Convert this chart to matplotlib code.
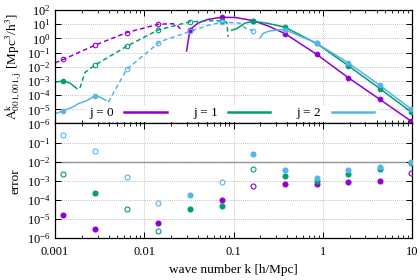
import numpy as np
import matplotlib
matplotlib.use('Agg')
import matplotlib.pyplot as plt
from matplotlib.lines import Line2D
from matplotlib.ticker import LogLocator, NullFormatter, FixedLocator, FuncFormatter

plt.rcParams['font.family'] = ['Liberation Serif', 'DejaVu Serif']
plt.rcParams['mathtext.fontset'] = 'stix'

# --- data ---
colors = ['#9400d3', '#009e73', '#56b4e9']
labels = ['j = 0', 'j = 1', 'j = 2']

k_pts = [0.00124, 0.0028, 0.00635, 0.0144, 0.0325, 0.0736, 0.166, 0.376, 0.853, 1.93, 4.36, 9.85]

# j = 0
j0_dash_k = [0.001, 0.00124, 0.0028, 0.00635, 0.0144, 0.0209, 0.0238, 0.0262]
j0_dash_A = [0.019, 0.033, 0.33, 2.6, 10, 11, 7.4, 3.8]
j0_solid_k = [0.0298, 0.0325, 0.0399, 0.0516, 0.0736, 0.105, 0.166, 0.25, 0.376, 0.853, 1.93, 4.36, 9.85]
j0_solid_A = [0.13, 4.1, 12, 22, 31, 30, 18, 7.1, 2.2, 0.076, 1.7e-3, 5.0e-5, 1.4e-6]

# j = 1
j1_low_k = [0.001, 0.00124, 0.00147, 0.00176]
j1_low_A = [8.3e-4, 1.0e-3, 7.1e-4, 2.9e-4]
j1_dash_k = [0.0019, 0.00217, 0.0028, 0.00635, 0.0144, 0.0325, 0.0619, 0.0736, 0.0838, 0.0873]
j1_dash_A = [3.2e-4, 4.0e-3, 0.013, 0.28, 4.0, 15, 18, 17, 14, 1.3]
j1_solid_k = [0.0953, 0.108, 0.134, 0.166, 0.235, 0.376, 0.853, 1.93, 4.36, 9.85]
j1_solid_A = [3.8, 4.8, 12, 16, 12, 6.3, 0.44, 0.012, 2.9e-4, 6.3e-6]

# j = 2
j2_low_k = [0.001, 0.00124, 0.00163, 0.00182, 0.00226, 0.0028, 0.00319, 0.00372]
j2_low_A = [4.9e-6, 7.9e-6, 1.6e-5, 2.5e-5, 4.0e-5, 8.9e-5, 7.2e-5, 4.3e-5]
j2_dash_k = [0.00395, 0.00635, 0.0144, 0.0171, 0.0325, 0.0516, 0.0736, 0.118, 0.134, 0.166]
j2_dash_A = [3.2e-5, 6.5e-3, 0.48, 0.79, 3.1, 8.3, 14, 12, 5.6, 3.4]
j2_solid_k = [0.198, 0.215, 0.256, 0.331, 0.376, 0.853, 1.93, 4.36, 9.85]
j2_solid_A = [1.05, 2.3, 3.4, 4.1, 4.1, 0.46, 0.019, 4.9e-4, 1.0e-5]

# markers on the curves (open = on dashed part)
A0_mk = [0.033, 0.33, 2.6, 10, 4.1, 31, 18, 2.2, 0.076, 1.7e-3, 5.0e-5, 1.4e-6]
A1_mk = [1.0e-3, 0.013, 0.28, 4.0, 15, 17, 16, 6.3, 0.44, 0.012, 2.9e-4, 6.3e-6]
A2_mk = [7.9e-6, 8.9e-5, 6.5e-3, 0.48, 3.1, 14, 3.4, 4.1, 0.46, 0.019, 4.9e-4, 1.0e-5]
open0 = [1, 1, 1, 1, 0, 0, 0, 0, 0, 0, 0, 0]
open1 = [0, 1, 1, 1, 1, 1, 0, 0, 0, 0, 0, 0]
open2 = [0, 0, 1, 1, 1, 1, 1, 0, 0, 0, 0, 0]

# error panel
err0 = [1.7e-5, 2.9e-6, np.nan, 6.2e-6, np.nan, 9.6e-5, 5.3e-4, 6.9e-4, 6.8e-4, 8.9e-4, 1.0e-3, 2.6e-3]
err1 = [2.2e-3, 2.2e-4, 3.5e-5, 2.2e-6, 3.4e-5, 5.0e-5, 4.1e-3, 1.8e-3, 9.6e-4, 2.2e-3, 4.1e-3, 9.0e-3]
err2 = [0.26, 0.038, 1.6e-3, 6.7e-5, 1.9e-4, 8.3e-4, 0.026, 3.6e-3, 1.4e-3, 3.5e-3, 5.5e-3, 1.0e-2]
eopen0 = [0, 0, 0, 0, 0, 0, 1, 0, 0, 0, 0, 1]
eopen1 = [1, 0, 1, 1, 0, 0, 1, 0, 0, 0, 0, 0]
eopen2 = [1, 1, 1, 1, 0, 1, 0, 0, 0, 0, 0, 0]

# --- figure ---
fig = plt.figure(figsize=(4.2, 2.8), dpi=100)
ax1 = fig.add_axes([0.131, 0.559, 0.850, 0.405])
ax2 = fig.add_axes([0.131, 0.150, 0.850, 0.409], sharex=ax1)

lw = 1.1
ms = 3.3


def draw_markers(ax, k, vals, opens, c, size):
    k = np.array(k)
    vals = np.array(vals, dtype=float)
    o = np.array(opens, dtype=bool)
    ax.plot(k[~o], vals[~o], 'o', color=c, ms=size, mec=c, mew=0.8, zorder=4)
    ax.plot(k[o], vals[o], 'o', color=c, ms=size, mfc='none', mec=c, mew=0.8, zorder=4)


def pow_label(v, pos):
    # gnuplot-like 10^n labels; the 10^0 of the error panel is left out
    e = int(round(np.log10(v)))
    return r'$\mathdefault{10^{%d}}$' % e


def err_label(v, pos):
    if v >= 0.5:
        return ''
    return pow_label(v, pos)


# top panel
ax1.plot(j0_dash_k, j0_dash_A, '--', color=colors[0], lw=lw, dashes=(3, 2))
ax1.plot(j0_solid_k, j0_solid_A, '-', color=colors[0], lw=lw)
draw_markers(ax1, k_pts, A0_mk, open0, colors[0], ms)

ax1.plot(j1_low_k, j1_low_A, '-', color=colors[1], lw=lw)
ax1.plot(j1_dash_k, j1_dash_A, '--', color=colors[1], lw=lw, dashes=(3, 2))
ax1.plot(j1_solid_k, j1_solid_A, '-', color=colors[1], lw=lw)
draw_markers(ax1, k_pts, A1_mk, open1, colors[1], ms)

ax1.plot(j2_low_k, j2_low_A, '-', color=colors[2], lw=lw)
ax1.plot(j2_dash_k, j2_dash_A, '--', color=colors[2], lw=lw, dashes=(3, 2))
ax1.plot(j2_solid_k, j2_solid_A, '-', color=colors[2], lw=lw)
draw_markers(ax1, k_pts, A2_mk, open2, colors[2], ms)

# bottom panel
ax2.axhline(1e-2, color='#888888', lw=1.0, zorder=1)
draw_markers(ax2, k_pts, err0, eopen0, colors[0], 3.6)
draw_markers(ax2, k_pts, err1, eopen1, colors[1], 3.6)
draw_markers(ax2, k_pts, err2, eopen2, colors[2], 3.6)

for ax in (ax1, ax2):
    ax.set_xscale('log')
    ax.set_yscale('log')
    ax.set_xlim(0.001, 10)
    ax.grid(True, which='major', color='#b0b0b0', linestyle=(0, (1, 1.5)), lw=0.6)
    ax.tick_params(which='both', direction='in', top=True, right=True, labelsize=9, pad=3)
    ax.tick_params(which='major', length=4, width=0.7)
    ax.tick_params(which='minor', length=2, width=0.6)
    ax.xaxis.set_minor_locator(LogLocator(base=10, subs=np.arange(2, 10)))
    ax.xaxis.set_minor_formatter(NullFormatter())
    ax.yaxis.set_minor_locator(LogLocator(base=10, subs=[]))
    for s in ax.spines.values():
        s.set_linewidth(0.9)

ax1.set_ylim(1e-6, 1e2)
ax1.yaxis.set_major_locator(FixedLocator([10.0 ** e for e in range(-6, 3)]))
ax1.yaxis.set_major_formatter(FuncFormatter(pow_label))
ax1.tick_params(axis='x', labelbottom=False)

ax2.set_ylim(1e-6, 1)
ax2.yaxis.set_major_locator(FixedLocator([10.0 ** e for e in range(-6, 1)]))
ax2.yaxis.set_major_formatter(FuncFormatter(err_label))
ax2.set_xticks([0.001, 0.01, 0.1, 1, 10])
ax2.set_xticklabels(['0.001', '0.01', '0.1', '1', '10'])
ax2.grid(True, which='major', axis='x', color='#b0b0b0', linestyle=(0, (1, 1.5)), lw=0.6)
ax2.tick_params(axis='x', pad=6)

ax1.set_ylabel(r'$\mathrm{A^{k}_{001,001,j}}$ [Mpc$^3$/h$^3$]', fontsize=9.5, labelpad=2)
ax2.set_ylabel('error', fontsize=9.5, labelpad=4)
ax2.set_xlabel('wave number k [h/Mpc]', fontsize=9.5, labelpad=4)

# legend: text first, then line sample
handles = [Line2D([], [], color=c, lw=1.8) for c in colors]
leg = ax1.legend(handles, labels, loc='center', bbox_to_anchor=(0.495, 0.09), ncol=3,
                 markerfirst=False, frameon=True, fontsize=9.5, handlelength=3.2,
                 columnspacing=2.0, handletextpad=0.8, borderpad=0.2, borderaxespad=0)
leg.get_frame().set_facecolor('white')
leg.get_frame().set_edgecolor('none')
leg.get_frame().set_alpha(1.0)
leg.get_frame().set_boxstyle('square', pad=0)

plt.savefig('out.png', dpi=100)
